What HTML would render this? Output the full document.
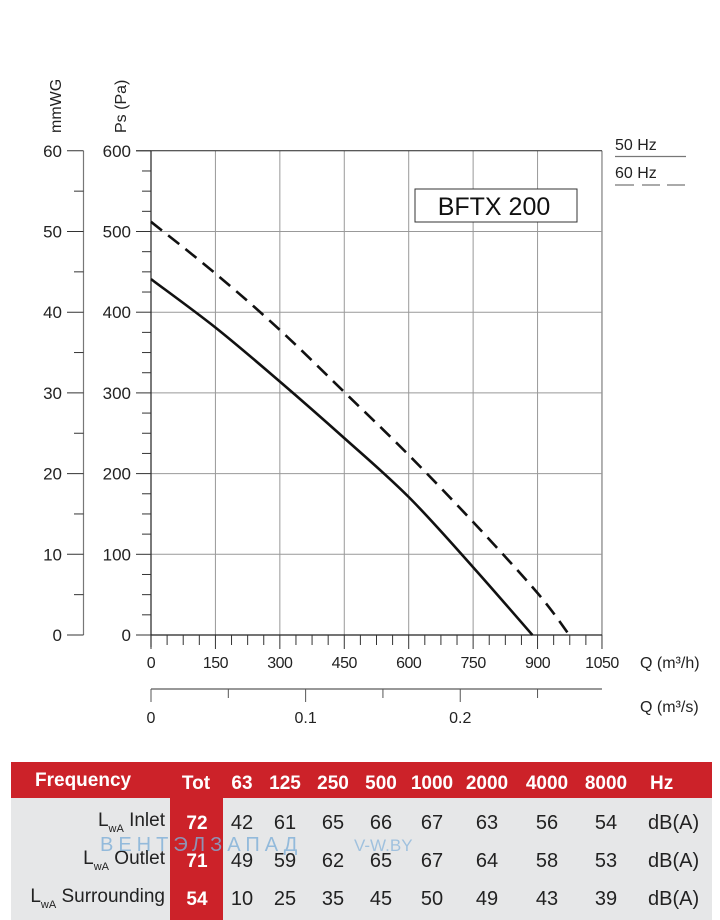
<!DOCTYPE html>
<html><head><meta charset="utf-8"><style>
body{margin:0;background:#fff;}
svg{display:block;font-family:"Liberation Sans",sans-serif;}
</style></head><body>
<svg width="720" height="920" viewBox="0 0 720 920" id="chart">
<g id="plot"></g>
<g id="table"></g>
</svg>
<script>
const qTicks=[0,150,300,450,600,750,900,1050];
const paTicks=[0,100,200,300,400,500,600];
const mmTicks=[0,10,20,30,40,50,60];
const m3sTicks=["0","0.1","0.2"];
const q50=[0,150,300,450,600,750,888];
const p50=[441,381,314,244,171,84,0];
const q60=[0,150,300,450,600,750,900,974];
const p60=[512,448,378,301,223,140,52,0];
const freqs=["63","125","250","500","1000","2000","4000","8000"];
const rowLabels=["Inlet","Outlet","Surrounding"];
const totVals=[72,71,54];
const inletVals=[42,61,65,66,67,63,56,54];
const outletVals=[49,59,62,65,67,64,58,53];
const surrVals=[10,25,35,45,50,49,43,39];

const NS="http://www.w3.org/2000/svg";
const x0=151,y0=635,kx=0.4295,ky=0.807;
const X=q=>x0+q*kx, Y=p=>y0-p*ky;
const plot=document.getElementById('plot'), table=document.getElementById('table');
function mk(tag,attrs,parent,text){const e=document.createElementNS(NS,tag);for(const k in attrs)e.setAttribute(k,attrs[k]);if(text!==undefined)e.textContent=text;parent.appendChild(e);return e;}
const TF={'font-size':17,fill:'#222','font-stretch':'condensed'};
function tx(attrs,parent,text){return mk('text',Object.assign({},TF,attrs),parent,text);}

// grid
qTicks.forEach((q,i)=>{if(i===0)return;
 const l=mk('line',{x1:X(q),x2:X(q),y1:Y(600),y2:y0,stroke:i===qTicks.length-1?'#666':'#999','stroke-width':1},plot);
 
 });
paTicks.forEach(p=>{if(p===0||p===600)return;
 const l=mk('line',{x1:x0,x2:X(1050),y1:Y(p),y2:Y(p),stroke:'#999','stroke-width':1},plot);
 
 });
mk('line',{x1:136,x2:X(1050),y1:Y(600),y2:Y(600),stroke:'#222','stroke-width':1},plot);
// Pa axis
mk('line',{x1:x0,x2:x0,y1:Y(600),y2:y0+12,stroke:'#222','stroke-width':1.2},plot);
for(let p=0;p<=600;p+=25){const maj=p%100===0;mk('line',{x1:maj?136:142,x2:x0,y1:Y(p),y2:Y(p),stroke:'#333','stroke-width':1},plot);}
paTicks.forEach(p=>{const t=tx({x:131,y:Y(p)+6,'text-anchor':'end'},plot,p);
 
 });
// mmWG axis
mk('line',{x1:83.5,x2:83.5,y1:Y(600),y2:y0,stroke:'#777','stroke-width':1.2},plot);
for(let m=0;m<=60;m+=5){const maj=m%10===0;mk('line',{x1:maj?67:74,x2:83.5,y1:Y(m*10),y2:Y(m*10),stroke:'#333','stroke-width':1},plot);}
mmTicks.forEach(m=>{const t=tx({x:62,y:Y(m*10)+6,'text-anchor':'end'},plot,m);
 
 });
// axis titles
tx({transform:'translate(61,133) rotate(-90)','font-size':16},plot,'mmWG');
tx({transform:'translate(126,133) rotate(-90)','font-size':16},plot,'Ps (Pa)');
// x axis
mk('line',{x1:x0,x2:X(1050),y1:y0,y2:y0,stroke:'#222','stroke-width':1.2},plot);
for(let q=0;q<=1050;q+=37.5){const maj=q%150===0;mk('line',{x1:X(q),x2:X(q),y1:y0,y2:y0+(maj?14:10),stroke:'#333','stroke-width':1},plot);}
qTicks.forEach(q=>{const t=tx({x:X(q),y:668,'text-anchor':'middle','font-size':16,'letter-spacing':-0.5},plot,q);
 
 });
tx({x:640,y:668,'font-size':16},plot,'Q (m³/h)');
// m3/s axis
mk('line',{x1:x0,x2:X(1050),y1:689,y2:689,stroke:'#777','stroke-width':1.5},plot);
for(let s=0;s<=0.29;s+=0.05){const maj=Math.round(s*100)%10===0;mk('line',{x1:X(s*3600),x2:X(s*3600),y1:689,y2:maj?702:698,stroke:'#555','stroke-width':1},plot);}
m3sTicks.forEach(s=>{const t=tx({x:X(parseFloat(s)*3600),y:723,'text-anchor':'middle','font-size':16},plot,s);
 
 });
tx({x:640,y:712,'font-size':16},plot,'Q (m³/s)');
// curves (smoothed Catmull-Rom)
function curve(qs,ps,dash,name){
 const pts=qs.map((q,i)=>[X(q),Y(ps[i])]);
 let d='M'+pts[0][0].toFixed(1)+' '+pts[0][1].toFixed(1);
 for(let i=0;i<pts.length-1;i++){
  const p0=pts[Math.max(0,i-1)],p1=pts[i],p2=pts[i+1],p3=pts[Math.min(pts.length-1,i+2)];
  const c1=[p1[0]+(p2[0]-p0[0])/6,p1[1]+(p2[1]-p0[1])/6];
  const c2=[p2[0]-(p3[0]-p1[0])/6,p2[1]-(p3[1]-p1[1])/6];
  d+='C'+c1.map(v=>v.toFixed(1)).join(' ')+' '+c2.map(v=>v.toFixed(1)).join(' ')+' '+p2.map(v=>v.toFixed(1)).join(' ');
 }
 const p=mk('path',{d:d,fill:'none',stroke:'#111','stroke-width':2.6,'stroke-dasharray':dash,'stroke-linejoin':'round'},plot);
 
 }
curve(q50,p50,'none','curve-50hz');
curve(q60,p60,'14 8','curve-60hz');
// title box
mk('rect',{x:415,y:189,width:162,height:33,fill:'#fff',stroke:'#333','stroke-width':1},plot);
mk('text',{x:494,y:215,'text-anchor':'middle','font-size':25,fill:'#111'},plot,'BFTX 200');
// legend
tx({x:615,y:150,'font-size':16},plot,'50 Hz');
mk('line',{x1:615,x2:686,y1:156.5,y2:156.5,stroke:'#777','stroke-width':1.2},plot);
tx({x:615,y:178,'font-size':16},plot,'60 Hz');
[[615,634],[642,660],[667,685]].forEach(s=>mk('line',{x1:s[0],x2:s[1],y1:185,y2:185,stroke:'#777','stroke-width':1.2},plot));

// table
mk('rect',{x:11,y:762,width:701,height:36,fill:'#cc2229'},table);
mk('rect',{x:11,y:798,width:701,height:122,fill:'#e6e7e8'},table);
mk('rect',{x:170,y:798,width:53,height:122,fill:'#cc2229'},table);
const colX=[242,285,333,381,432,487,547,606];
const hs={'font-size':19,'font-weight':'bold',fill:'#fff'};
mk('text',Object.assign({x:35,y:786},hs),table,'Frequency');
mk('text',Object.assign({x:196,y:789,'text-anchor':'middle'},hs),table,'Tot');
freqs.forEach((f,i)=>{const t=mk('text',Object.assign({x:colX[i],y:789,'text-anchor':'middle'},hs),table,f);
 
 });
mk('text',Object.assign({x:650,y:789},hs),table,'Hz');
const rows=[inletVals,outletVals,surrVals], rowY=[829,867,905];
rows.forEach((vals,r)=>{
 const lab=mk('text',{x:165,y:rowY[r]-3,'text-anchor':'end','font-size':19,fill:'#222'},table);
 mk('tspan',{},lab,'L');mk('tspan',{'font-size':11,dy:6},lab,'wA');mk('tspan',{dy:-6},lab,' '+rowLabels[r]);
 
 
 const tt=mk('text',{x:197,y:rowY[r],'text-anchor':'middle','font-size':19,'font-weight':'bold',fill:'#fff'},table,totVals[r]);
 
 
 vals.forEach((v,i)=>{const t=mk('text',{x:colX[i],y:rowY[r],'text-anchor':'middle','font-size':20,fill:'#222'},table,v);
  
  });
 mk('text',{x:648,y:rowY[r],'font-size':20,fill:'#222'},table,'dB(A)');
});
const wm=mk('text',{x:100,y:851,'font-size':20,fill:'#7fb0d8','letter-spacing':5,opacity:0.8},table,'ВЕНТЭЛЗАПАД');

mk('text',{x:354,y:851,'font-size':17,fill:'#8fb8dc',opacity:0.8},table,'V-W.BY');
</script>
</body></html>
